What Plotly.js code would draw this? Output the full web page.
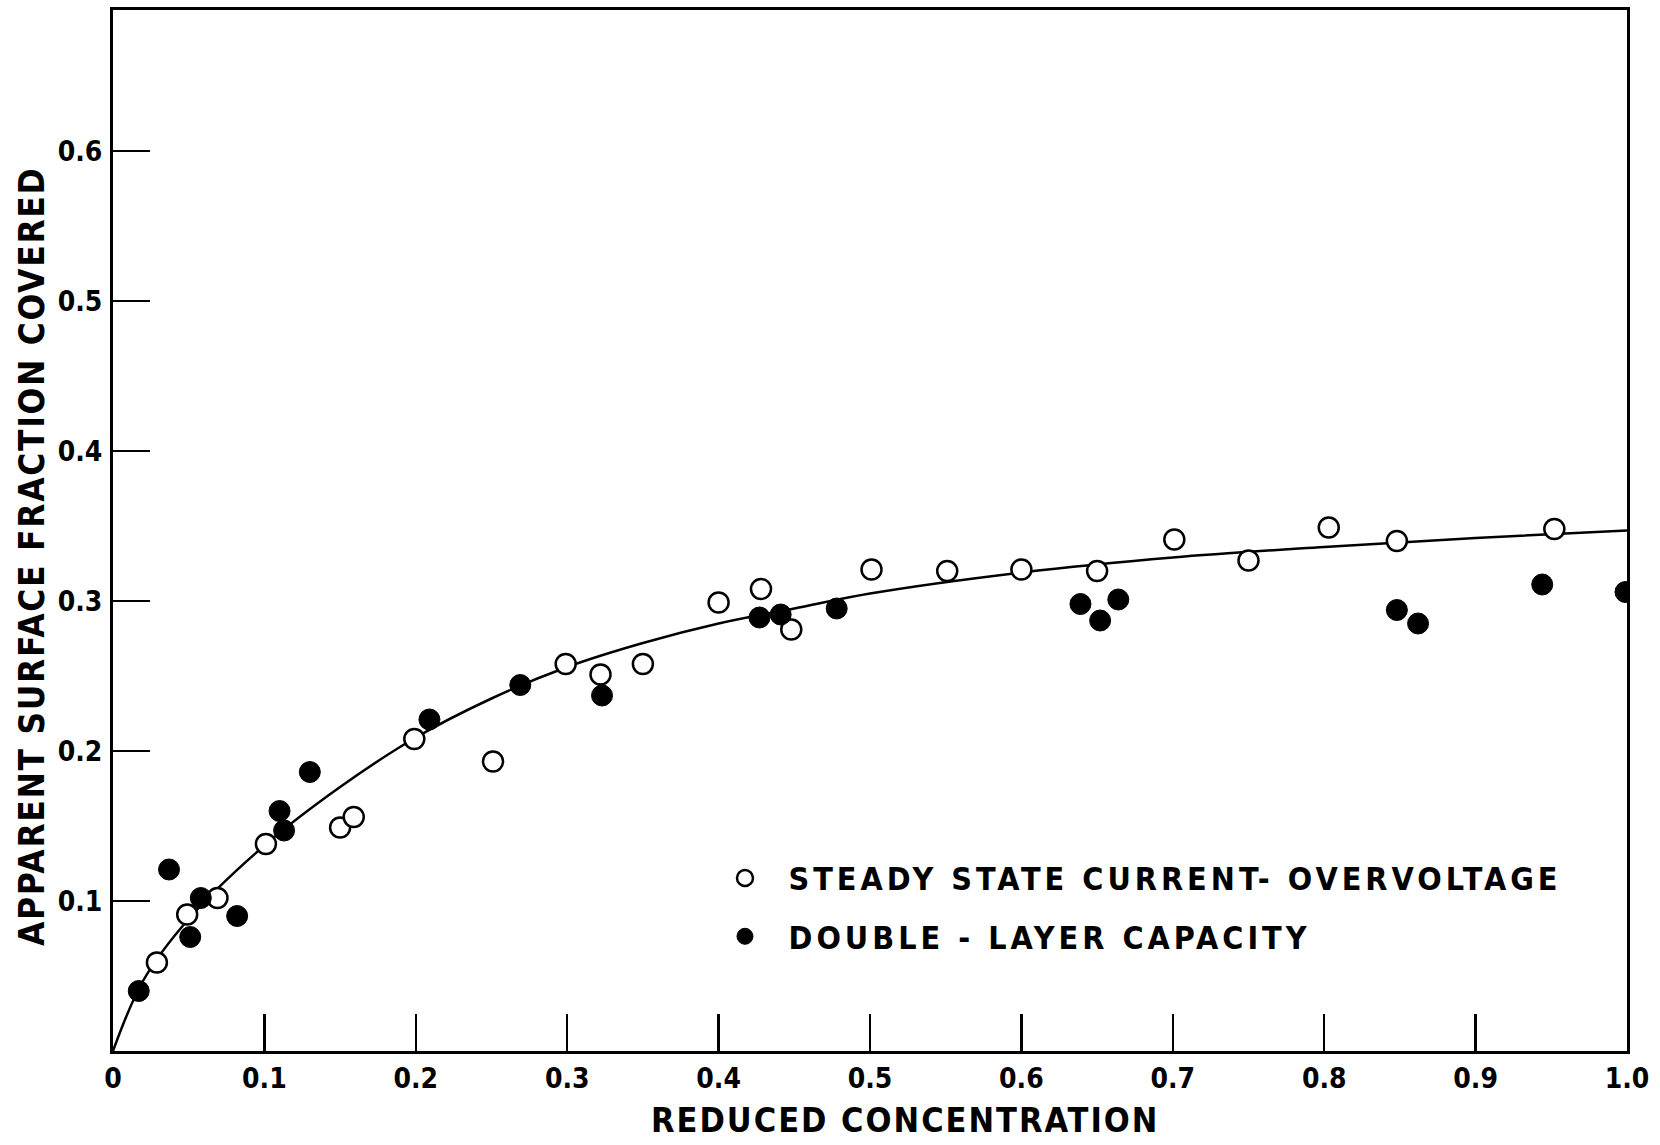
<!DOCTYPE html>
<html>
<head>
<meta charset="utf-8">
<script src="https://cdn.plot.ly/plotly-3.0.1.min.js"></script>
<style>
html,body{margin:0;padding:0;background:#fff;}
#chart{width:1660px;height:1145px;}
text.legendtext, g.legend text, g.legend2 text{letter-spacing:4px !important;}
.ann-x text{letter-spacing:2px;}
</style>
</head>
<body>
<div id="chart"></div>
<script>
// Steady state current-overvoltage (open circles)
const steadyX = [0.029,0.049,0.069,0.101,0.150,0.159,0.199,0.251,0.299,0.322,0.350,0.400,0.428,0.448,0.501,0.551,0.600,0.650,0.701,0.750,0.803,0.848,0.952];
const steadyY = [0.059,0.091,0.102,0.138,0.149,0.156,0.208,0.193,0.258,0.251,0.258,0.299,0.308,0.281,0.321,0.320,0.321,0.320,0.341,0.327,0.349,0.340,0.348];
// Double-layer capacity (filled circles)
const dlX = [0.017,0.037,0.051,0.058,0.082,0.110,0.113,0.130,0.209,0.269,0.323,0.427,0.441,0.478,0.639,0.652,0.664,0.848,0.862,0.944,0.999];
const dlY = [0.040,0.121,0.076,0.102,0.090,0.160,0.147,0.186,0.221,0.244,0.237,0.289,0.291,0.295,0.298,0.287,0.301,0.294,0.285,0.311,0.306];
// Fitted curve
const curveX = [0,0.02,0.05,0.1,0.15,0.2,0.25,0.3,0.35,0.4,0.45,0.5,0.6,0.7,0.8,0.9,1.0];
const curveY = [0,0.047,0.088,0.137,0.176,0.209,0.235,0.256,0.272,0.285,0.295,0.305,0.319,0.329,0.336,0.342,0.347];
// Tick labels
const xTickVals = [0,0.1,0.2,0.3,0.4,0.5,0.6,0.7,0.8,0.9,1.0];
const xTickText = ["0","0.1","0.2","0.3","0.4","0.5","0.6","0.7","0.8","0.9","1.0"];
const yTickVals = [0.1,0.2,0.3,0.4,0.5,0.6];
const yTickText = ["0.1","0.2","0.3","0.4","0.5","0.6"];
// Axis titles
const xTitle = 'REDUCED CONCENTRATION';
const yTitle = 'APPARENT SURFACE FRACTION COVERED';

const FONT = "DejaVu Sans Condensed, DejaVu Sans, Liberation Sans, sans-serif";

const traces = [
  {x: curveX, y: curveY, mode: 'lines', line: {color: '#000', width: 2.5, shape: 'spline', smoothing: 1}, showlegend: false, hoverinfo: 'skip'},
  {x: steadyX, y: steadyY, mode: 'markers', name: 'STEADY STATE CURRENT- OVERVOLTAGE',
   marker: {symbol: 'circle', size: 20, color: '#fff', line: {color: '#000', width: 2.5}}, legend: 'legend'},
  {x: dlX, y: dlY, mode: 'markers', name: 'DOUBLE - LAYER CAPACITY',
   marker: {symbol: 'circle', size: 21, color: '#000', line: {color: '#000', width: 1}}, legend: 'legend2'}
];

function axisBase() {
  return {
    showgrid: false, zeroline: false, showline: true, linecolor: '#000', linewidth: 3,
    mirror: true, ticks: 'inside', ticklen: 37, tickwidth: 2.5, tickcolor: '#000',
    tickfont: {family: FONT, size: 28, color: '#000', weight: 'bold'}, tickmode: 'array'
  };
}

const layout = {
  width: 1660, height: 1145,
  paper_bgcolor: '#fff', plot_bgcolor: '#fff',
  margin: {l: 113, r: 33, t: 10, b: 94},
  xaxis: Object.assign(axisBase(), {
    range: [0, 1.0], tickvals: xTickVals, ticktext: xTickText
  }),
  yaxis: Object.assign(axisBase(), {
    range: [0, 0.694], tickvals: yTickVals, ticktext: yTickText, ticklabelstandoff: 2
  }),
  annotations: [
    {text: xTitle, xref: 'paper', yref: 'paper', x: 0.523, y: -0.0663, xanchor: 'center', yanchor: 'middle',
     showarrow: false, font: {family: FONT, size: 34, color: '#000', weight: 'bold'}},
    {text: yTitle, xref: 'paper', yref: 'paper', x: -0.0535, y: 0.4745, xanchor: 'center', yanchor: 'middle',
     textangle: -90, showarrow: false, font: {family: FONT, size: 35, color: '#000', weight: 'bold'}}
  ],
  legend: {x: 0.3887, y: 0.166, xanchor: 'left', yanchor: 'middle', bgcolor: 'rgba(0,0,0,0)', itemwidth: 77,
           font: {family: FONT, size: 32, color: '#000', weight: 'bold'}},
  legend2: {x: 0.3887, y: 0.110, xanchor: 'left', yanchor: 'middle', bgcolor: 'rgba(0,0,0,0)', itemwidth: 77,
           font: {family: FONT, size: 32, color: '#000', weight: 'bold'}},
  showlegend: true
};

Plotly.newPlot('chart', traces, layout, {displayModeBar: false, staticPlot: true}).then(function (gd) {
  // letter spacing for the axis titles (drawn as annotations) and no clipping of the wider legend text
  const anns = gd.querySelectorAll('.annotation-text');
  if (anns[0]) anns[0].style.letterSpacing = '2px';
  if (anns[1]) anns[1].style.letterSpacing = '1.7px';
  gd.querySelectorAll('g.legend [clip-path], g.legend2 [clip-path], g.legend, g.legend2').forEach(function (el) {
    el.removeAttribute('clip-path');
  });
});
</script>
</body>
</html>
